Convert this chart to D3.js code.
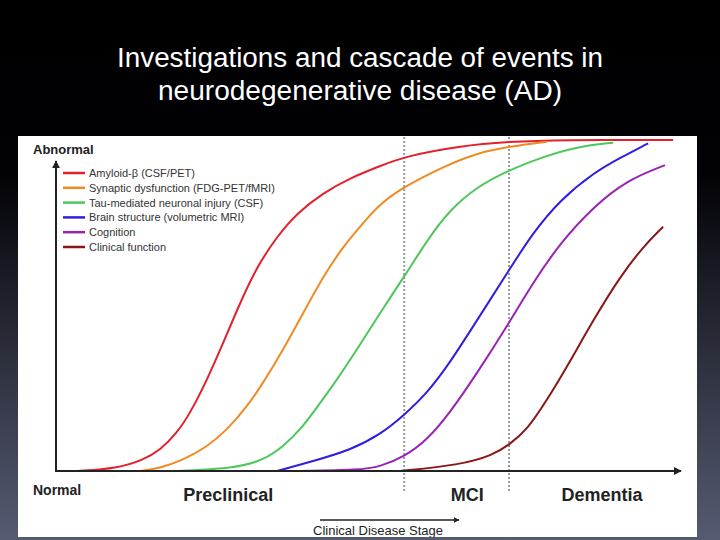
<!DOCTYPE html>
<html>
<head>
<meta charset="utf-8">
<script src="https://cdn.jsdelivr.net/npm/d3@7"></script>
<style>
  body { margin: 0; background: #000; }
  svg { display: block; font-family: "Liberation Sans", Arial, sans-serif; }
</style>
</head>
<body>
<div id="chart"></div>
<script>
// series data: disease stage (0-100) vs biomarker level (0 normal - 100 abnormal)
const amyloidX = [3.4, 9.8, 13.9, 16.7, 19.4, 21.5, 24.2, 26.8, 29.5, 32.2, 35.4, 38.6, 42.8, 47.1, 51.9, 55.8, 64.7, 72.6, 80.8, 98.9];
const amyloidY = [0, 0.8, 3.3, 6.3, 11.5, 17.5, 27.5, 38.7, 50.8, 61.7, 70.8, 77.9, 84.0, 88.5, 92.1, 95.0, 98.2, 99.5, 100, 100];

const synapticX = [13.5, 16.7, 20.4, 24.2, 27.4, 30.6, 33.2, 36.4, 39.6, 42.8, 46.0, 49.2, 51.9, 55.8, 62.0, 67.5, 72.6, 78.7];
const synapticY = [0, 0.9, 3.3, 7.3, 12.4, 19.4, 26.6, 36.6, 47.7, 58.7, 67.8, 74.9, 80.7, 85.9, 91.9, 96.1, 98.0, 99.5];

const tauX = [19.4, 29.0, 33.2, 36.4, 39.6, 42.3, 45.0, 48.2, 51.9, 55.8, 59.5, 63.1, 67.5, 72.6, 78.0, 83.5, 89.3];
const tauY = [0, 0.9, 3.3, 7.3, 13.4, 20.5, 27.5, 36.6, 47.7, 58.7, 69.8, 78.9, 85.9, 90.9, 94.9, 98.0, 99.2];

const brainX = [35.4, 41.8, 47.1, 51.9, 55.8, 59.5, 63.1, 67.5, 72.6, 76.4, 80.8, 86.1, 90.4, 94.9];
const brainY = [0, 3.3, 6.3, 10.9, 16.9, 23.6, 32.6, 45.6, 60.7, 71.9, 81.9, 90.0, 94.6, 99.0];

const cognitionX = [39.1, 48.7, 51.9, 55.8, 59.5, 63.1, 67.5, 72.6, 76.4, 80.8, 86.1, 91.5, 97.6];
const cognitionY = [0, 0.3, 1.3, 4.3, 9.4, 17.5, 29.6, 44.7, 56.8, 68.9, 79.8, 87.9, 92.4];

const clinicalX = [55.1, 64.7, 70.0, 72.6, 75.5, 78.7, 81.9, 86.1, 90.4, 94.1, 97.3];
const clinicalY = [0, 1.8, 4.8, 7.9, 12.4, 21.5, 31.5, 45.6, 58.7, 67.8, 73.8];

const seriesNames = ["Amyloid-\u03b2 (CSF/PET)", "Synaptic dysfunction (FDG-PET/fMRI)", "Tau-mediated neuronal injury (CSF)",
                     "Brain structure (volumetric MRI)", "Cognition", "Clinical function"];
const seriesColors = ["#e3202c", "#f08a24", "#4cc85a", "#2f1ee0", "#9a22b4", "#8a1616"];

// stage boundaries and labels
const stageBounds = [55.8, 72.6];
const stageLabels = ["Preclinical", "MCI", "Dementia"];
const stageCenters = [27.6, 65.9, 87.5];

const title = ["Investigations and cascade of events in", "neurodegenerative disease (AD)"];

const series = [
    [amyloidX, amyloidY], [synapticX, synapticY], [tauX, tauY],
    [brainX, brainY], [cognitionX, cognitionY], [clinicalX, clinicalY]
].map((s, i) => ({
    name: seriesNames[i],
    color: seriesColors[i],
    values: s[0].map((x, j) => ({ x: x, y: s[1][j] }))
}));

const w = 720, h = 540;

const svg = d3.select("#chart")
    .append("svg")
    .attr("width", w)
    .attr("height", h);

// background gradient
const defs = svg.append("defs");
const grad = defs.append("linearGradient")
    .attr("id", "bg")
    .attr("x1", 0).attr("y1", 0).attr("x2", 0).attr("y2", 1);
grad.append("stop").attr("offset", "0%").attr("stop-color", "#000");
grad.append("stop").attr("offset", "32%").attr("stop-color", "#020206");
grad.append("stop").attr("offset", "100%").attr("stop-color", "#565b72");

defs.append("marker")
    .attr("id", "arrow")
    .attr("viewBox", "0 0 10 10")
    .attr("refX", 9).attr("refY", 5)
    .attr("markerWidth", 4).attr("markerHeight", 4)
    .attr("orient", "auto")
    .append("path")
    .attr("d", "M0,0 L10,5 L0,10 z")
    .attr("fill", "#222");

defs.append("clipPath")
    .attr("id", "panelClip")
    .append("rect")
    .attr("x", 18).attr("y", 136).attr("width", 679).attr("height", 401);

svg.append("rect")
    .attr("width", w).attr("height", h)
    .attr("fill", "url(#bg)");

// title
svg.append("g")
    .selectAll("text")
    .data(title)
    .enter()
    .append("text")
    .attr("x", 360)
    .attr("y", (d, i) => 67 + i * 33)
    .attr("text-anchor", "middle")
    .attr("fill", "#fff")
    .attr("font-size", 27)
    .attr("textLength", (d, i) => i === 0 ? 486 : 404)
    .attr("lengthAdjust", "spacingAndGlyphs")
    .text(d => d);

// white panel
svg.append("rect")
    .attr("x", 18).attr("y", 136)
    .attr("width", 679).attr("height", 401)
    .attr("fill", "#fff");

const panel = svg.append("g").attr("clip-path", "url(#panelClip)");

// scales
const xScale = d3.scaleLinear().domain([0, 100]).range([56, 680]);
const yScale = d3.scaleLinear().domain([0, 100]).range([471, 140]);

// dotted stage boundaries
panel.selectAll("line.stage")
    .data(stageBounds)
    .enter()
    .append("line")
    .attr("class", "stage")
    .attr("x1", d => xScale(d)).attr("x2", d => xScale(d))
    .attr("y1", 137).attr("y2", 492)
    .attr("stroke", "#9a9a9a")
    .attr("stroke-width", 2)
    .attr("stroke-dasharray", "2,2");

// curves
const line = d3.line()
    .x(d => xScale(d.x))
    .y(d => yScale(d.y))
    .curve(d3.curveBasis);

panel.selectAll("path.curve")
    .data(series)
    .enter()
    .append("path")
    .attr("class", "curve")
    .attr("d", d => line(d.values))
    .attr("fill", "none")
    .attr("stroke", d => d.color)
    .attr("stroke-width", 2);

// axes
panel.append("line")
    .attr("x1", 56).attr("y1", 471)
    .attr("x2", 56).attr("y2", 161)
    .attr("stroke", "#222").attr("stroke-width", 2)
    .attr("marker-end", "url(#arrow)");

panel.append("line")
    .attr("x1", 55).attr("y1", 471)
    .attr("x2", 681).attr("y2", 471)
    .attr("stroke", "#222").attr("stroke-width", 2)
    .attr("marker-end", "url(#arrow)");

panel.append("text")
    .attr("x", 33).attr("y", 154)
    .attr("font-size", 13).attr("font-weight", "bold")
    .attr("fill", "#222")
    .text("Abnormal");

panel.append("text")
    .attr("x", 33).attr("y", 495)
    .attr("font-size", 14).attr("font-weight", "bold")
    .attr("fill", "#222")
    .text("Normal");

// stage labels
panel.selectAll("text.stage")
    .data(stageLabels)
    .enter()
    .append("text")
    .attr("class", "stage")
    .attr("x", (d, i) => xScale(stageCenters[i]))
    .attr("y", 501)
    .attr("text-anchor", "middle")
    .attr("font-size", 18).attr("font-weight", "bold")
    .attr("fill", "#222")
    .text(d => d);

// clinical disease stage arrow
panel.append("line")
    .attr("x1", 320).attr("y1", 520)
    .attr("x2", 459).attr("y2", 520)
    .attr("stroke", "#222").attr("stroke-width", 1.5)
    .attr("marker-end", "url(#arrow)");

panel.append("text")
    .attr("x", 313).attr("y", 535)
    .attr("font-size", 13)
    .attr("fill", "#222")
    .text("Clinical Disease Stage");

// legend
const legend = panel.selectAll("g.legend")
    .data(series)
    .enter()
    .append("g")
    .attr("class", "legend")
    .attr("transform", (d, i) => "translate(63," + (173 + i * 14.8) + ")");

legend.append("line")
    .attr("x1", 0).attr("x2", 22)
    .attr("stroke", d => d.color)
    .attr("stroke-width", 2.5);

legend.append("text")
    .attr("x", 26).attr("y", 4)
    .attr("font-size", 11)
    .attr("fill", "#333")
    .text(d => d.name);
</script>
</body>
</html>
